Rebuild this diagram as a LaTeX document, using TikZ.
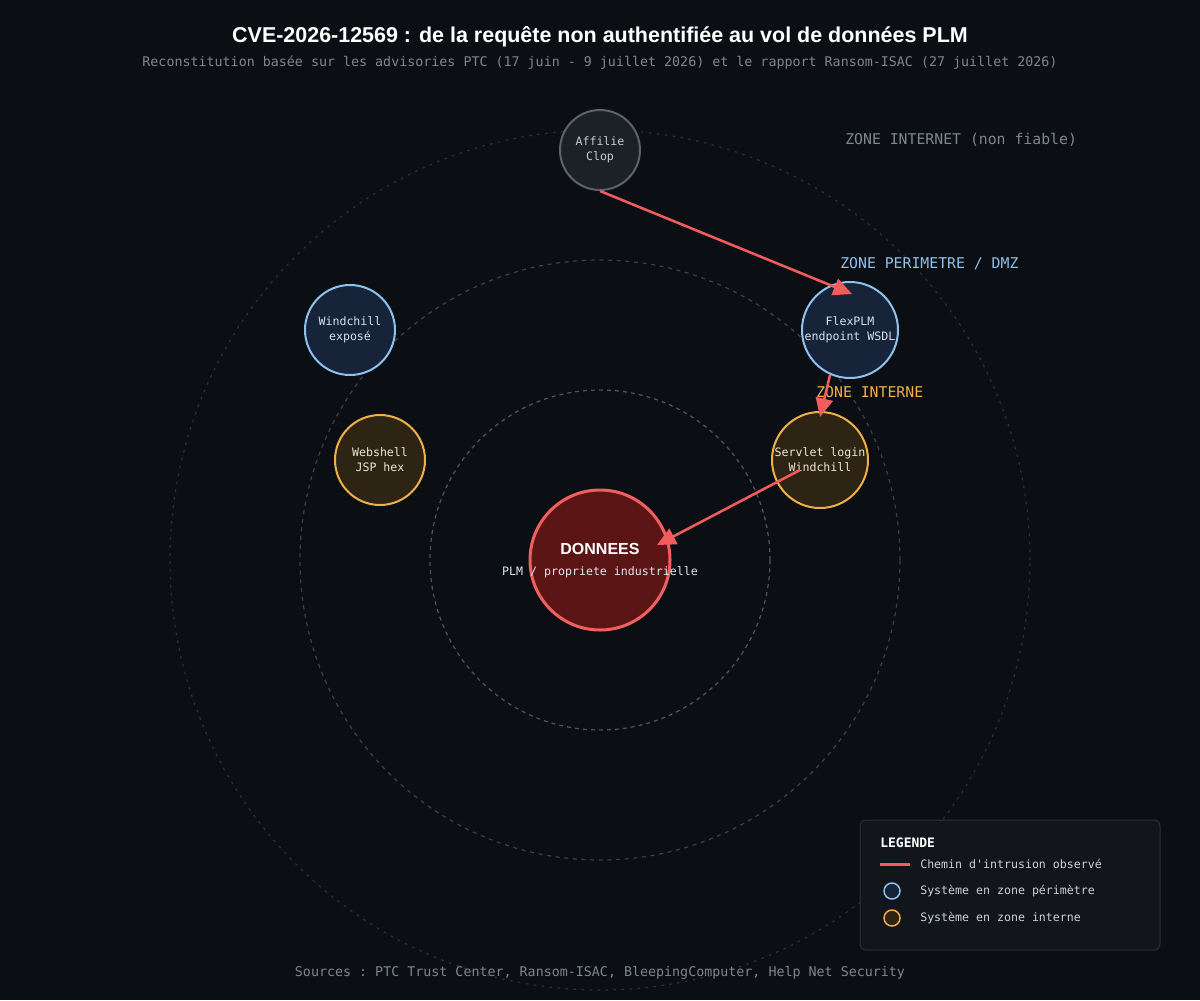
\documentclass[tikz,border=0pt]{standalone}
\usepackage{fontspec}
\setmainfont{Liberation Sans}
\setmonofont{DejaVu Sans Mono}
\usetikzlibrary{arrows.meta,calc,positioning}
\definecolor{bgdark}{HTML}{0B0E13}
\definecolor{subgray}{HTML}{7F8590}
\definecolor{inetdraw}{HTML}{5C626B}
\definecolor{inetfill}{HTML}{1C2027}
\definecolor{inettext}{HTML}{C9CDD3}
\definecolor{perimdraw}{HTML}{8EC1EE}
\definecolor{perimfill}{HTML}{172339}
\definecolor{perimtext}{HTML}{D6E2F0}
\definecolor{interndraw}{HTML}{F0B048}
\definecolor{internfill}{HTML}{2E2413}
\definecolor{interntext}{HTML}{F0E6D4}
\definecolor{datadraw}{HTML}{F06060}
\definecolor{datafill}{HTML}{5C1515}
\definecolor{attackred}{HTML}{F25C5C}
\definecolor{ringinner}{HTML}{50555D}
\definecolor{ringmid}{HTML}{3C4149}
\definecolor{ringouter}{HTML}{2C3036}
\definecolor{legfill}{HTML}{12161C}
\definecolor{legdraw}{HTML}{2B3038}
\definecolor{legtextcol}{HTML}{CCD2DA}
\newcommand{\nodew}{1.5pt}
\newcommand{\monosmall}{\ttfamily\fontsize{8.7}{11.2}\selectfont}
\newcommand{\monozone}{\ttfamily\fontsize{11.1}{13}\selectfont}

\begin{document}
\begin{tikzpicture}[x=0.75pt,y=-0.75pt,
    sys/.style={circle, line width=\nodew, inner sep=0pt},
    inet/.style={sys, draw=inetdraw, fill=inetfill, minimum size=60pt},
    perim/.style={sys, draw=perimdraw, fill=perimfill},
    intern/.style={sys, draw=interndraw, fill=internfill},
    systext/.style={font=\monosmall, align=center, inner sep=0pt},
    zonelabel/.style={font=\monozone, anchor=west, inner sep=0pt},
    attack/.style={draw=attackred, line width=1.9pt,
      -{Triangle[length=14pt,width=13pt]}},
    legtext/.style={font=\monosmall, text=legtextcol, anchor=west, inner sep=0pt}]
  % fond
  \fill[bgdark] (0,0) rectangle (1200,1000);
  \useasboundingbox (0,0) rectangle (1200,1000);

  % titre
  \node[text=white, font=\bfseries\fontsize{16.1}{20}\selectfont] (title) at (600,37)
    {CVE-2026-12569 : de la requête non authentifiée au vol de données PLM};
  \node[text=subgray, font=\ttfamily\fontsize{10}{12}\selectfont] (subtitle) at (600,63)
    {Reconstitution basée sur les advisories PTC (17 juin - 9 juillet 2026) et le rapport Ransom-ISAC (27 juillet 2026)};

  % zones
  \draw[ringouter, line width=0.9pt, dash pattern=on 2pt off 4pt] (600,560) circle[radius=322.5pt];
  \draw[ringmid, line width=0.9pt, dash pattern=on 3pt off 3.5pt] (600,560) circle[radius=225pt];
  \draw[ringinner, line width=0.9pt, dash pattern=on 3pt off 3pt] (600,560) circle[radius=127.5pt];

  \node[zonelabel, text=subgray] (zinet) at (845,140) {ZONE INTERNET (non fiable)};
  \node[zonelabel, text=perimdraw] (zperim) at (840,264) {ZONE PERIMETRE / DMZ};
  \node[zonelabel, text=interndraw] (zintern) at (816,392) {ZONE INTERNE};

  % systemes
  \node[inet, label={[systext, text=inettext]center:{Affilie\\Clop}}] (clop) at (600,150) {};
  \node[perim, minimum size=72pt, label={[systext, text=perimtext]center:{FlexPLM\\endpoint WSDL}}] (flex) at (850,330) {};
  \node[perim, minimum size=67.5pt, label={[systext, text=perimtext]center:{Windchill\\exposé}}] (windchill) at (350,330) {};
  \node[intern, minimum size=67.5pt, label={[systext, text=interntext]center:{Webshell\\JSP hex}}] (webshell) at (380,460) {};
  \node[intern, minimum size=72pt, label={[systext, text=interntext]center:{Servlet login\\Windchill}}] (servlet) at (820,460) {};
  \node[sys, draw=datadraw, fill=datafill, line width=2.25pt, minimum size=105pt] (donnees) at (600,560) {};
  \node[text=white, font=\bfseries\fontsize{12}{14}\selectfont, inner sep=0pt] (donneestitle) at (600,549) {DONNEES};
  \node[systext, text=perimtext!80!white] (donneessub) at (600,572) {PLM / propriete industrielle};

  % chemin d'intrusion
  \draw[attack] (clop.south) -- ($(flex)+(2,-36)$);
  \draw[attack] (flex.-114) -- ($(servlet)+(0,-43)$);
  \draw[attack] ($(servlet)+(-20,10)$) -- ($(donnees)+(57,-15)$);

  % legende
  \draw[fill=legfill, draw=legdraw, line width=0.75pt, rounded corners=4.5pt] (860,820) rectangle (1160,950);
  \node[legtext, text=white, font=\ttfamily\bfseries\fontsize{9.75}{12}\selectfont] (legtitle) at (880,843) {LEGENDE};
  \coordinate (legA) at (880,864);
  \coordinate (legB) at (910,864);
  \draw[attackred, line width=2.25pt] (legA) -- (legB);
  \node[legtext] (legpath) at (920,864) {Chemin d'intrusion observé};
  \node[sys, draw=perimdraw, fill=perimfill, line width=1.1pt, minimum size=12pt] (legperim) at (892,891) {};
  \node[legtext] (legperimtext) at (920,891) {Système en zone périmètre};
  \node[sys, draw=interndraw, fill=internfill, line width=1.1pt, minimum size=12pt] (legintern) at (892,918) {};
  \node[legtext] (leginterntext) at (920,918) {Système en zone interne};

  % sources
  \node[text=subgray, font=\ttfamily\fontsize{10}{12}\selectfont] (sources) at (600,973)
    {Sources : PTC Trust Center, Ransom-ISAC, BleepingComputer, Help Net Security};
\end{tikzpicture}
\end{document}
